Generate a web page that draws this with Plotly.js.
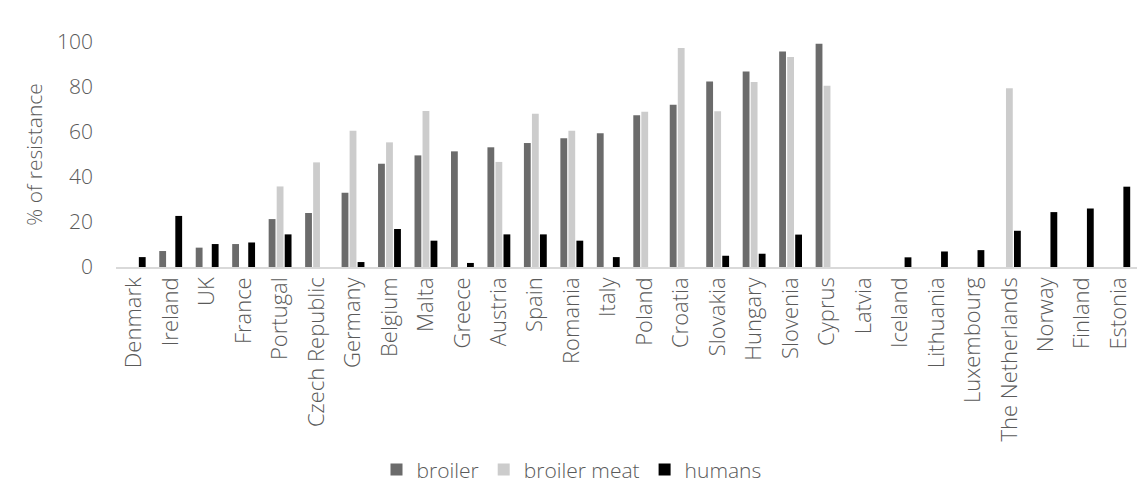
<!DOCTYPE html>
<html>
<head>
<meta charset="utf-8">
<script src="https://cdn.plot.ly/plotly-3.0.1.min.js"></script>
<style>html,body{margin:0;padding:0;background:#fff;}</style>
</head>
<body>
<div id="chart" style="width:1143px;height:483px;"></div>
<script>
const countries = ["Denmark","Ireland","UK","France","Portugal","Czech Republic","Germany","Belgium","Malta","Greece","Austria","Spain","Romania","Italy","Poland","Croatia","Slovakia","Hungary","Slovenia","Cyprus","Latvia","Iceland","Lithuania","Luxembourg","The Netherlands","Norway","Finland","Estonia"];
const broiler = [null,7.1,8.6,10.2,21.3,24,33,45.9,49.6,51.4,53.2,55.1,57.2,59.4,67.4,72.1,82.5,86.9,95.8,99.2,null,null,null,null,null,null,null,null];
const broilerMeat = [null,null,null,null,35.8,46.5,60.6,55.4,69.3,null,46.7,68.1,60.6,null,69,97.3,69.2,82.2,93.3,80.6,null,null,null,null,79.4,null,null,null];
const humans = [4.4,22.7,10.2,10.9,14.5,null,2.2,16.9,11.7,1.8,14.5,14.5,11.7,4.4,null,null,5,5.9,14.4,null,null,4.3,6.9,7.5,16.1,24.4,26,35.7];
const yTicks = [0,20,40,60,80,100];

const font = "'Open Sans', sans-serif";
const tf = {family:font, size:21, color:'#5a5a5a', weight:300};
const xf = {family:font, size:22, color:'#5a5a5a', weight:300};
const traces = [
  {type:'bar', name:'broiler', x:countries, y:broiler, marker:{color:'#6b6b6b'}},
  {type:'bar', name:'broiler meat', x:countries, y:broilerMeat, marker:{color:'#cccccc'}},
  {type:'bar', name:'humans', x:countries, y:humans, marker:{color:'#000000'}}
];
const layout = {
  width:1143, height:483,
  margin:{l:116, r:6, t:42, b:216},
  paper_bgcolor:'#fff', plot_bgcolor:'#fff',
  barmode:'group', bargap:0.34, bargroupgap:0.15,
  font:tf,
  xaxis:{type:'category', tickangle:-90, showline:true, linecolor:'#d9d9d9', linewidth:1.5,
         showgrid:false, ticks:'', tickfont:xf, fixedrange:true},
  yaxis:{range:[0,100], tickvals:yTicks, showgrid:false, zeroline:false, showline:false,
         ticks:'', tickfont:tf, ticklabelstandoff:22,
         title:{text:'% of resistance', font:tf, standoff:8}},
  legend:{orientation:'h', x:0.5, xanchor:'center', xref:'container', yref:'container', y:0.027, yanchor:'middle',
          font:tf, itemwidth:30, traceorder:'normal'},
  showlegend:true
};
Plotly.newPlot('chart', traces, layout, {displayModeBar:false, staticPlot:true});
</script>
</body>
</html>
